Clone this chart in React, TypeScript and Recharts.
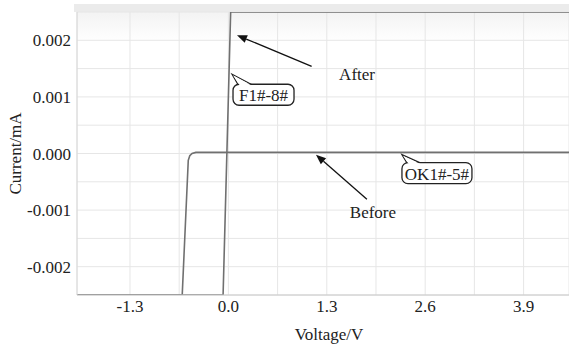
import { LineChart, Line, XAxis, YAxis, CartesianGrid, ReferenceLine, ReferenceDot } from 'recharts';

// I-V curves (voltage in V, current in mA)
const beforeVoltage = [-2.0, -0.61, -0.53, -0.51, -0.48, -0.43, 0.5, 1.5, 2.5, 3.5, 4.5];
const beforeCurrent = [-0.0025, -0.0025, -0.00012, -0.00004, 0.0, 0.00002, 0.00002, 0.00002, 0.00002, 0.00002, 0.00002];
const afterVoltage = [-2.0, -0.07, 0.03, 4.5];
const afterCurrent = [-0.0025, -0.0025, 0.0025, 0.0025];

const xTicks = [-1.3, -0.65, 0, 0.65, 1.3, 1.95, 2.6, 3.25, 3.9];
const yTicks = [-0.002, -0.0015, -0.001, -0.0005, 0, 0.0005, 0.001, 0.0015, 0.002];
const xLabelTicks = [-1.3, 0, 1.3, 2.6, 3.9];
const yLabelTicks = [-0.002, -0.001, 0, 0.001, 0.002];

const beforeData = beforeVoltage.map((v, i) => ({ voltage: v, current: beforeCurrent[i] }));
const afterData = afterVoltage.map((v, i) => ({ voltage: v, current: afterCurrent[i] }));

const FONT = "'Liberation Serif', 'Times New Roman', serif";
const LINE_COLOR = '#707070';

const isLabelled = (list: number[], v: number) => list.some((t) => Math.abs(t - v) < 1e-9);

const xTick = (props: any) => {
    const { x, y, payload } = props;
    if (!isLabelled(xLabelTicks, payload.value)) return <g />;
    return (
        <text x={x} y={y + 9} textAnchor="middle" fontFamily={FONT} fontSize={17} fill="#222">
            {payload.value.toFixed(1)}
        </text>
    );
};

const yTick = (props: any) => {
    const { x, y, payload } = props;
    if (!isLabelled(yLabelTicks, payload.value)) return <g />;
    return (
        <text x={x} y={y + 6} textAnchor="end" fontFamily={FONT} fontSize={17} fill="#222">
            {payload.value.toFixed(3)}
        </text>
    );
};

// arrow drawn from segment start (tail) to segment end (head)
const arrow = (props: any) => {
    const { x1, y1, x2, y2 } = props;
    const a = Math.atan2(y2 - y1, x2 - x1);
    const len = 10, w = 4;
    const bx = x2 - len * Math.cos(a), by = y2 - len * Math.sin(a);
    const p1 = `${bx + w * Math.sin(a)},${by - w * Math.cos(a)}`;
    const p2 = `${bx - w * Math.sin(a)},${by + w * Math.cos(a)}`;
    return (
        <g>
            <line x1={x1} y1={y1} x2={bx} y2={by} stroke="#111" strokeWidth={1.3} />
            <polygon points={`${x2},${y2} ${p1} ${p2}`} fill="#111" />
        </g>
    );
};

const note = (text: string) => (props: any) => (
    <text x={props.cx} y={props.cy} textAnchor="middle" dominantBaseline="central"
        fontFamily={FONT} fontSize={17} fill="#222">{text}</text>
);

// speech-bubble label; cx/cy is the tip of the tail
const bubble = (text: string, w: number, dx: number, dy: number) => (props: any) => {
    const { cx, cy } = props;
    const h = 21;
    return (
        <g>
            <polygon points={`${cx},${cy} ${cx + dx + 6},${cy + dy + 2} ${cx + dx + 20},${cy + dy + 1}`}
                fill="#fff" stroke="#222" strokeWidth={1.2} />
            <rect x={cx + dx} y={cy + dy} width={w} height={h} rx={6} fill="#fff" stroke="#222" strokeWidth={1.3} />
            <polygon points={`${cx + 1},${cy + 1} ${cx + dx + 7},${cy + dy + 1.5} ${cx + dx + 19},${cy + dy + 1.5}`}
                fill="#fff" stroke="none" />
            <text x={cx + dx + w / 2} y={cy + dy + h / 2 + 1} textAnchor="middle" dominantBaseline="central"
                fontFamily={FONT} fontSize={17} fill="#222">{text}</text>
        </g>
    );
};

const yLabel = (props: any) => {
    const { viewBox } = props;
    const y = viewBox.y + viewBox.height / 2;
    return (
        <text x={15} y={y} transform={`rotate(-90, 15, ${y})`} textAnchor="middle" dominantBaseline="central"
            fontFamily={FONT} fontSize={17} fill="#222">Current/mA</text>
    );
};

export default function App() {
    return (
        <div style={{ position: 'fixed', top: 0, left: 0, width: 569, height: 346, background: '#fff' }}>
            <div style={{ position: 'absolute', top: 4, left: 74, width: 495, height: 8, background: '#ebebeb' }} />
            <div style={{ position: 'absolute', top: 12, left: 77, width: 492, height: 30, background: 'linear-gradient(#f3f3f3, #fff)' }} />
            <div style={{ position: 'absolute', top: 0, left: 0 }}>
                <LineChart width={569} height={346} margin={{ top: 12, right: 0, bottom: 0, left: 0 }}
                    style={{ fontFamily: FONT }}>
                    <CartesianGrid stroke="#e6e6e6" strokeWidth={1} />
                    <XAxis dataKey="voltage" type="number" domain={[-2, 4.5]} ticks={xTicks} allowDataOverflow
                        height={51} tickLine={false} axisLine={{ stroke: '#c8c8c8' }} tick={xTick}
                        label={{ value: 'Voltage/V', position: 'insideBottom', offset: 6, dx: 6, fontSize: 17, fill: '#222', fontFamily: FONT }} />
                    <YAxis type="number" domain={[-0.0025, 0.0025]} ticks={yTicks} allowDataOverflow
                        width={77} tickLine={false} tickSize={6} tickMargin={0} axisLine={{ stroke: '#d8d8d8' }}
                        tick={yTick} label={yLabel} />
                    <Line data={beforeData} dataKey="current" type="linear" stroke={LINE_COLOR} strokeWidth={1.6}
                        dot={false} isAnimationActive={false} />
                    <Line data={afterData} dataKey="current" type="linear" stroke={LINE_COLOR} strokeWidth={1.6}
                        dot={false} isAnimationActive={false} />
                    <ReferenceLine segment={[{ x: 1.1, y: 0.00154 }, { x: 0.114, y: 0.00209 }]} shape={arrow} />
                    <ReferenceLine segment={[{ x: 1.83, y: -0.00081 }, { x: 1.157, y: -0.00002 }]} shape={arrow} />
                    <ReferenceDot x={1.7} y={0.0014} r={0} shape={note('After')} />
                    <ReferenceDot x={1.91} y={-0.00104} r={0} shape={note('Before')} />
                    <ReferenceDot x={0.048} y={0.0014} r={0} shape={bubble('F1#-8#', 61, 1, 10)} />
                    <ReferenceDot x={2.293} y={-0.00002} r={0} shape={bubble('OK1#-5#', 70, 0, 8)} />
                </LineChart>
            </div>
        </div>
    );
}
